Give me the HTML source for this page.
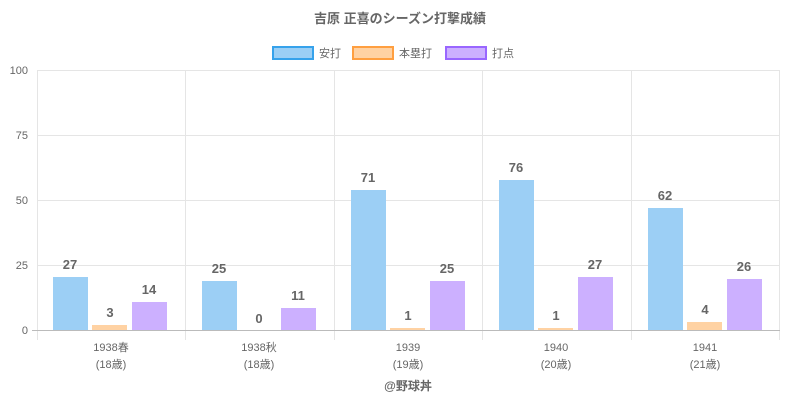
<!DOCTYPE html>
<html><head><meta charset="utf-8"><style>
body{margin:0;background:#fff;}
svg text{font-family:"Liberation Sans","Noto Sans CJK JP",sans-serif;}
</style></head><body>
<svg width="800" height="400" xmlns="http://www.w3.org/2000/svg">
<text x="400" y="23" text-anchor="middle" font-size="13" font-weight="bold" fill="#666">吉原 正喜のシーズン打撃成績</text>
<rect x="273" y="47" width="40" height="12" fill="#9ccff5" stroke="#36a2eb" stroke-width="2"/>
<text x="319" y="57" font-size="11" fill="#666">安打</text>
<rect x="353" y="47" width="40" height="12" fill="#ffd2a3" stroke="#ff9f40" stroke-width="2"/>
<text x="399" y="57" font-size="11" fill="#666">本塁打</text>
<rect x="446" y="47" width="40" height="12" fill="#ccb0ff" stroke="#9966ff" stroke-width="2"/>
<text x="492" y="57" font-size="11" fill="#666">打点</text>
<g stroke="#e5e5e5" stroke-width="1">
<line x1="37" y1="70.5" x2="780" y2="70.5"/><line x1="37" y1="135.5" x2="780" y2="135.5"/>
<line x1="37" y1="200.5" x2="780" y2="200.5"/><line x1="37" y1="265.5" x2="780" y2="265.5"/>
<line x1="37.5" y1="70" x2="37.5" y2="340"/><line x1="185.5" y1="70" x2="185.5" y2="340"/>
<line x1="334.5" y1="70" x2="334.5" y2="340"/><line x1="482.5" y1="70" x2="482.5" y2="340"/>
<line x1="631.5" y1="70" x2="631.5" y2="340"/><line x1="779.5" y1="70" x2="779.5" y2="340"/>
</g>
<line x1="32" y1="330.5" x2="780" y2="330.5" stroke="#bbb"/>
<g font-size="11" fill="#666" text-anchor="end">
<text x="28" y="74">100</text><text x="28" y="139">75</text><text x="28" y="204">50</text><text x="28" y="269">25</text><text x="28" y="334">0</text>
</g>
<g>
<rect x="53" y="277" width="35" height="53" fill="#9ccff5"/><rect x="92" y="325" width="35" height="5" fill="#ffd2a3"/><rect x="132" y="302" width="35" height="28" fill="#ccb0ff"/>
<rect x="202" y="281" width="35" height="49" fill="#9ccff5"/><rect x="281" y="308" width="35" height="22" fill="#ccb0ff"/>
<rect x="351" y="190" width="35" height="140" fill="#9ccff5"/><rect x="390" y="328" width="35" height="2" fill="#ffd2a3"/><rect x="430" y="281" width="35" height="49" fill="#ccb0ff"/>
<rect x="499" y="180" width="35" height="150" fill="#9ccff5"/><rect x="538" y="328" width="35" height="2" fill="#ffd2a3"/><rect x="578" y="277" width="35" height="53" fill="#ccb0ff"/>
<rect x="648" y="208" width="35" height="122" fill="#9ccff5"/><rect x="687" y="322" width="35" height="8" fill="#ffd2a3"/><rect x="727" y="279" width="35" height="51" fill="#ccb0ff"/>
</g>
<g font-size="13" font-weight="bold" fill="#666" text-anchor="middle">
<text x="70" y="269">27</text><text x="110" y="317">3</text><text x="149" y="294">14</text>
<text x="219" y="273">25</text><text x="259" y="323">0</text><text x="298" y="300">11</text>
<text x="368" y="182">71</text><text x="408" y="320">1</text><text x="447" y="273">25</text>
<text x="516" y="172">76</text><text x="556" y="320">1</text><text x="595" y="269">27</text>
<text x="665" y="200">62</text><text x="705" y="314">4</text><text x="744" y="271">26</text>
</g>
<g font-size="11" fill="#666" text-anchor="middle">
<text x="111" y="351">1938春</text><text x="111" y="368">(18歳)</text>
<text x="259" y="351">1938秋</text><text x="259" y="368">(18歳)</text>
<text x="408" y="351">1939</text><text x="408" y="368">(19歳)</text>
<text x="556" y="351">1940</text><text x="556" y="368">(20歳)</text>
<text x="705" y="351">1941</text><text x="705" y="368">(21歳)</text>
</g>
<text x="408" y="390" text-anchor="middle" font-size="12" font-weight="bold" fill="#666">@野球丼</text>
</svg>
</body></html>
